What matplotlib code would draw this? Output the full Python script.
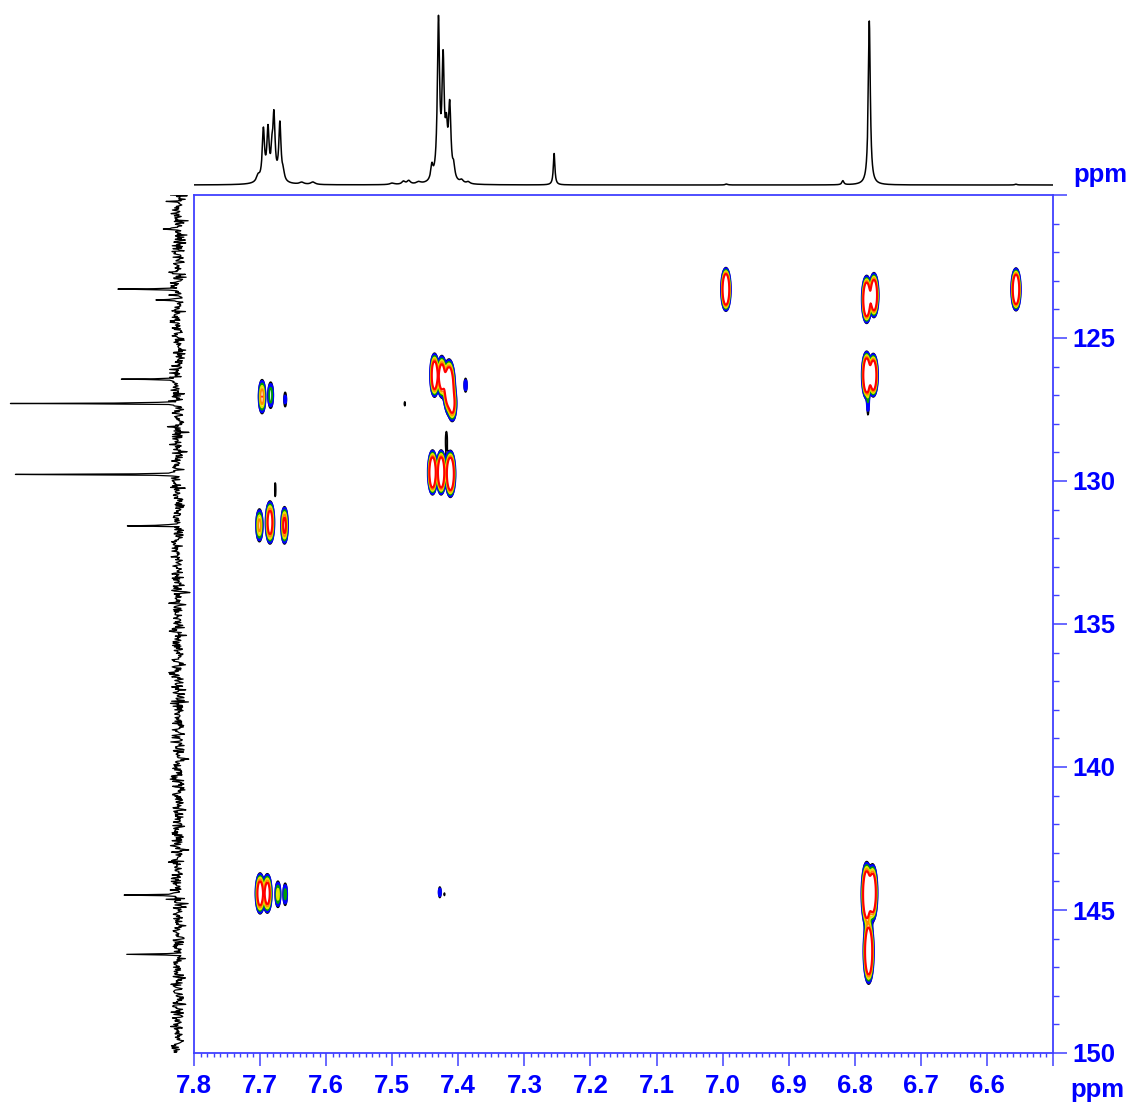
import numpy as np
import matplotlib
matplotlib.use("Agg")
import matplotlib.pyplot as plt
from matplotlib.ticker import MultipleLocator, FuncFormatter

plt.rcParams['font.family'] = ['Liberation Sans', 'DejaVu Sans']

# 1H projection (top trace): shift (ppm), height (px above baseline), half width (ppm)
h_shift = [7.703, 7.695, 7.688, 7.682, 7.679, 7.670, 7.665, 7.684, 7.637, 7.620,
           7.500, 7.483, 7.475, 7.460, 7.440, 7.430, 7.423, 7.418, 7.413, 7.407,
           7.395, 7.385, 7.255, 6.994, 6.818, 6.778, 6.556]
h_height = [6, 50, 48, 20, 62, 57, 8, 4, 2, 2.5,
            1.5, 3, 3.5, 2, 14, 158, 115, 40, 72, 12,
            3, 2, 32, 1, 4, 164, 0.8]
h_width = [0.003, 0.002, 0.002, 0.0015, 0.002, 0.002, 0.002, 0.012, 0.004, 0.004,
           0.004, 0.003, 0.003, 0.004, 0.002, 0.002, 0.002, 0.002, 0.0022, 0.002,
           0.003, 0.003, 0.0014, 0.002, 0.0018, 0.0018, 0.002]

# 13C projection (left trace): shift (ppm), height (px)
c_shift = [121.19, 123.29, 123.67, 126.44, 127.29, 129.77, 131.57, 144.48, 146.55]
c_height = [14, 63, 22, 60, 164, 166, 51, 59, 46]

# HMBC cross peaks: 1H shift, 13C shift, intensity (x lowest level), widths
cross_h = [6.995, 6.782, 6.771, 6.556,
           6.782, 6.772, 6.780,
           6.782, 6.773, 6.779,
           7.436, 7.425, 7.414, 7.409, 7.389, 7.418,
           7.439, 7.426, 7.412,
           7.481,
           7.697, 7.684, 7.662,
           7.701, 7.685, 7.663, 7.677,
           7.700, 7.689, 7.673, 7.662,
           7.428, 7.421]
cross_c = [123.30, 123.65, 123.50, 123.30,
           126.30, 126.30, 127.30,
           144.45, 144.40, 146.45,
           126.30, 126.35, 126.70, 127.30, 126.65, 128.60,
           129.70, 129.70, 129.75,
           127.30,
           127.05, 127.00, 127.15,
           131.55, 131.45, 131.55, 130.30,
           144.42, 144.42, 144.45, 144.45,
           144.38, 144.45]
cross_amp = [25, 25, 20, 22,
             25, 20, 1.6,
             25, 18, 25,
             15, 12, 25, 8, 1.8, 1.3,
             20, 20, 22,
             1.15,
             5, 2.6, 1.5,
             4.5, 10, 7, 1.2,
             12, 10, 3.2, 2.3,
             1.7, 1.1]
cross_wh = [.0028, .0028, .0028, .0028,
            .0028, .0028, .0013,
            .003, .003, .003,
            .0028, .003, .0035, .003, .0018, .0018,
            .0028, .0028, .003,
            .0012,
            .0028, .0028, .002,
            .0028, .003, .0025, .0012,
            .003, .003, .0025, .0022,
            .0016, .001]
cross_wc = [.30, .33, .32, .30,
            .33, .31, .40,
            .45, .42, .45,
            .33, .33, .38, .30, .22, .45,
            .32, .32, .33,
            .13,
            .33, .33, .28,
            .33, .35, .33, .40,
            .32, .32, .30, .30,
            .18, .10]

levels = [1, 1.35, 1.9, 2.6, 3.6, 5.0]
level_colors = ['black', '#0000ff', '#00a000', '#e8e800', '#ff8c00', '#ff0000']
level_widths = [1.2, 2.0, 1.3, 1.3, 1.3, 1.5]

blue = '#0000ff'
axis_blue = '#4040ff'

W, H = 1133, 1106
fig = plt.figure(figsize=(W / 100, H / 100), dpi=100)

L, R, T, B = 194, 1053, 195, 1053
ax = fig.add_axes([L / W, 1 - B / H, (R - L) / W, (B - T) / H])
ax_top = fig.add_axes([L / W, 1 - 192 / H, (R - L) / W, 192 / H])
ax_left = fig.add_axes([0, 1 - B / H, L / W, (B - T) / H])

# 2D contour map
xg = np.arange(6.5, 7.8001, 0.0006)
yg = np.arange(120, 150.001, 0.03)
Z = np.zeros((len(yg), len(xg)))
for x0, y0, a, sx, sy in zip(cross_h, cross_c, cross_amp, cross_wh, cross_wc):
    gx = np.exp(-0.5 * ((xg - x0) / sx) ** 2)
    gy = np.exp(-0.5 * ((yg - y0) / sy) ** 2)
    Z += a * np.outer(gy, gx)
ax.contour(xg, yg, Z, levels=levels, colors=level_colors, linewidths=level_widths)

ax.set_xlim(7.8, 6.5)
ax.set_ylim(150, 120)
ax.yaxis.tick_right()
ax.xaxis.set_major_locator(MultipleLocator(0.1))
ax.xaxis.set_minor_locator(MultipleLocator(0.01))
ax.yaxis.set_major_locator(MultipleLocator(5))
ax.yaxis.set_minor_locator(MultipleLocator(1))
ax.xaxis.set_major_formatter(FuncFormatter(lambda v, p: '' if v < 6.55 else f'{v:.1f}'))
ax.yaxis.set_major_formatter(FuncFormatter(lambda v, p: '' if v < 122 else f'{v:.0f}'))
ax.tick_params(axis='x', which='major', direction='out', length=9, width=1.1,
               color=axis_blue, labelcolor=blue, labelsize=18.5, pad=6)
ax.tick_params(axis='x', which='minor', direction='out', length=3, width=1.0, color=axis_blue)
ax.tick_params(axis='y', which='major', direction='out', length=10, width=1.1,
               color=axis_blue, labelcolor=blue, labelsize=18.5, pad=4)
ax.tick_params(axis='y', which='minor', direction='out', length=4, width=1.0, color=axis_blue)
for lab in ax.get_xticklabels() + ax.get_yticklabels():
    lab.set_fontweight('bold')
for s in ax.spines.values():
    s.set_color(axis_blue)
    s.set_linewidth(1.3)

# 1H trace on top
xs = np.arange(6.5, 7.8001, 0.0004)
spec_h = np.zeros_like(xs)
for x0, hgt, w in zip(h_shift, h_height, h_width):
    spec_h += hgt / (1 + ((xs - x0) / w) ** 2)
ax_top.plot(xs, spec_h, color='black', lw=1.1)
ax_top.set_xlim(7.8, 6.5)
ax_top.set_ylim(-7, 185)
ax_top.axis('off')

# 13C trace on the left, baseline noise only as texture
ys = np.arange(120, 150.001, 0.025)
ys = np.sort(np.concatenate([ys, c_shift]))
rng = np.random.default_rng(3)
spec_c = rng.normal(0, 3.6, len(ys))
for y0, hgt in zip(c_shift, c_height):
    spec_c += hgt / (1 + ((ys - y0) / 0.012) ** 2)
ax_left.plot(spec_c, ys, color='black', lw=0.9)
ax_left.set_ylim(150, 120)
ax_left.set_xlim(178, -16)
ax_left.axis('off')

fig.text(1100 / W, 1 - 175 / H, 'ppm', color=blue, fontsize=18.5, fontweight='bold',
         ha='center', va='center')
fig.text(1097 / W, 1 - 1090 / H, 'ppm', color=blue, fontsize=18.5, fontweight='bold',
         ha='center', va='center')

fig.savefig('out.png', dpi=100)
